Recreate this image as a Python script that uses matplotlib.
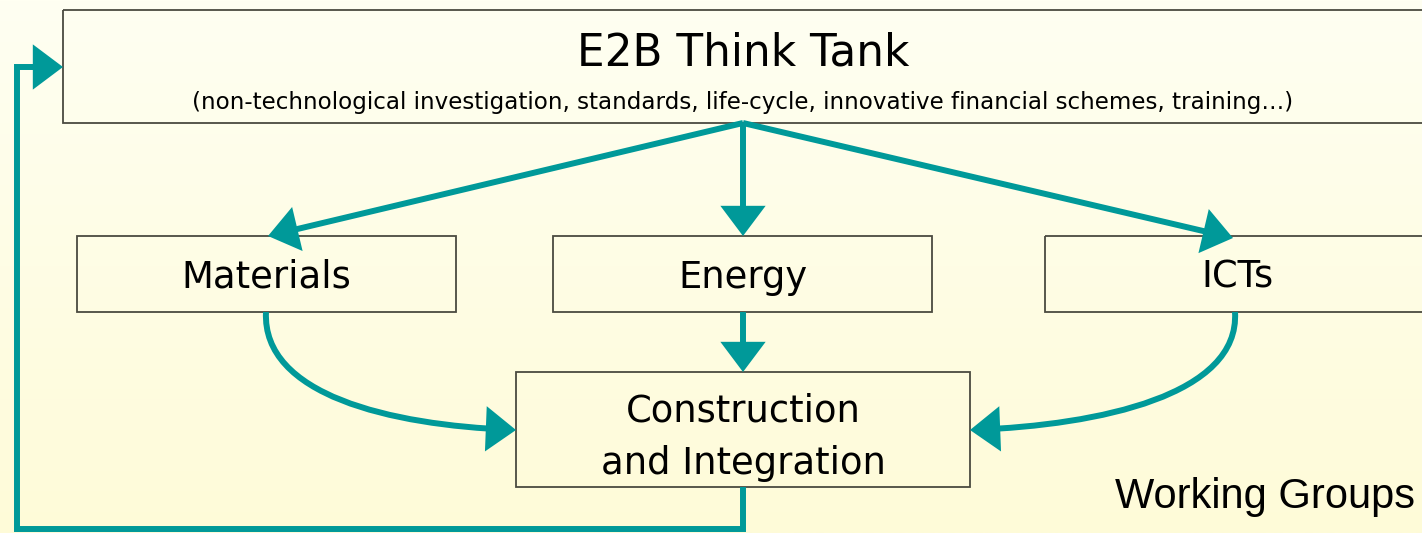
import numpy as np
import matplotlib.pyplot as plt
from matplotlib.patches import Rectangle, FancyArrowPatch
from matplotlib.path import Path

# text shown in the diagram
title = "E2B Think Tank"
subtitle = ("(non-technological investigation, standards, life-cycle, "
            "innovative financial schemes, training…)")
groups = ["Materials", "Energy", "ICTs"]
bottom_label = "Construction\nand Integration"
corner_label = "Working Groups"

teal = "#009999"
edge = "#4a4a40"

# layout in pixel units (y goes down)
top_box = (63, 10, 1400, 113)
group_boxes = [(77, 236, 379, 76), (553, 236, 379, 76), (1045, 236, 400, 76)]
group_cx = [266, 743, 1237]
low_box = (516, 372, 454, 115)

fig = plt.figure(figsize=(14.22, 5.33), dpi=100)
ax = fig.add_axes([0, 0, 1, 1])
ax.set_xlim(0, 1422)
ax.set_ylim(533, 0)
ax.axis("off")

# background fades from pale cream to light yellow
grad = np.linspace(0, 1, 256).reshape(-1, 1)
top_col = np.array([255, 255, 242]) / 255
bot_col = np.array([254, 251, 216]) / 255
img = top_col + grad[..., None] * (bot_col - top_col)
img = np.repeat(img, 2, axis=1)
ax.imshow(img, extent=(0, 1422, 533, 0), aspect="auto", zorder=0)

def box(r):
    ax.add_patch(Rectangle((r[0], r[1]), r[2], r[3], fill=False,
                           edgecolor=edge, lw=1.3, zorder=2))

box(top_box)
for b in group_boxes:
    box(b)
box(low_box)

# texts
ax.text(743, 53, title, ha="center", va="center", fontsize=31.5,
        family="DejaVu Sans", zorder=3)
ax.text(743, 103, subtitle, ha="center", va="center", fontsize=16.6,
        family="DejaVu Sans", zorder=3)
for b, cx, name in zip(group_boxes, group_cx, groups):
    ax.text(cx, b[1] + 41, name, ha="center", va="center", fontsize=26.6,
            family="DejaVu Sans", zorder=3)
ax.text(743, 437, bottom_label, ha="center", va="center", fontsize=26.6,
        family="DejaVu Sans", linespacing=1.55, zorder=3)
ax.text(1415, 497, corner_label, ha="right", va="center", fontsize=30,
        family="Liberation Sans", zorder=3)

style = "-|>,head_length=16,head_width=12"

def arrow(path):
    ax.add_patch(FancyArrowPatch(path=path, arrowstyle=style,
                                 mutation_scale=1, color=teal, lw=4.3,
                                 shrinkA=0, shrinkB=0, zorder=4,
                                 joinstyle="miter", capstyle="butt"))

# from the think tank down to the three groups
src = (743, 123)
for tip in [(268, 236), (743, 236), (1233, 238)]:
    arrow(Path([src, tip]))

# energy straight down
arrow(Path([(743, 312), (743, 372)]))

# curved arrows from materials and ICTs
arrow(Path([(266, 312), (262, 395), (390, 425), (516, 430)],
           [Path.MOVETO, Path.CURVE4, Path.CURVE4, Path.CURVE4]))
arrow(Path([(1235, 312), (1240, 395), (1100, 425), (970, 430)],
           [Path.MOVETO, Path.CURVE4, Path.CURVE4, Path.CURVE4]))

# feedback loop back up to the think tank
arrow(Path([(743, 487), (743, 529), (17, 529), (17, 67), (63, 67)],
           [Path.MOVETO, Path.LINETO, Path.LINETO, Path.LINETO, Path.LINETO]))

fig.savefig("out.png", dpi=100)
